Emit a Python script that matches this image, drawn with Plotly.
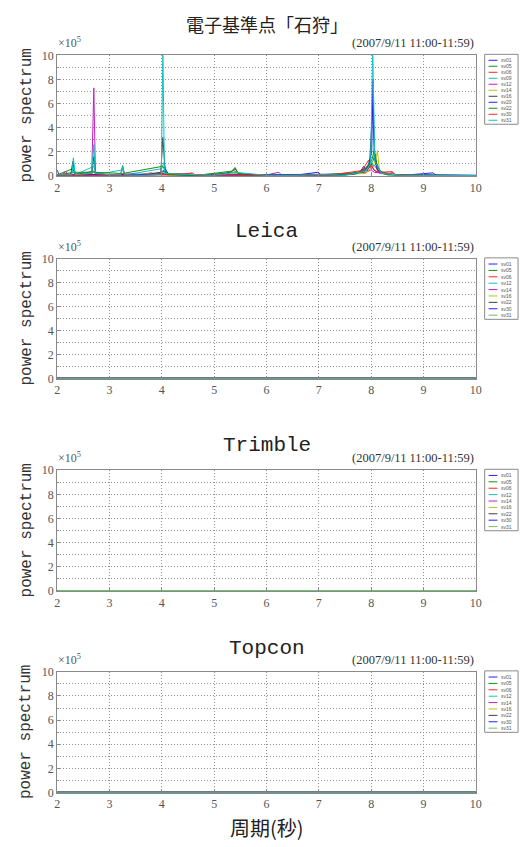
import plotly.graph_objects as go

# ---------------- data ----------------
period_ticks = [2, 3, 4, 5, 6, 7, 8, 9, 10]
power_ticks = [0, 2, 4, 6, 8, 10]

names_top = ["sv01", "sv05", "sv06", "sv09", "sv12", "sv14", "sv16", "sv20", "sv22", "sv30", "sv31"]
colors_top = ["#2020ff", "#109010", "#ff2020", "#10c0c0", "#c020c0", "#c0c010", "#404040",
              "#2020ff", "#109010", "#ff2020", "#10c0c0"]

# (period [s], power spectrum [x10^5])
sv01 = [(2.00,0.50),(2.03,0.12),(2.20,0.10),(2.50,0.12),(2.80,0.08),(3.10,0.10),(3.50,0.06),(3.90,0.10),
        (4.02,0.40),(4.10,0.10),(4.60,0.08),(5.10,0.06),(5.60,0.10),(6.10,0.05),(6.60,0.08),(6.98,0.30),
        (7.04,0.10),(7.50,0.10),(7.78,0.30),(7.86,0.80),(7.92,0.40),(8.00,1.00),(8.05,0.50),(8.12,0.30),
        (8.30,0.15),(8.70,0.08),(9.18,0.25),(9.24,0.06),(9.60,0.05),(10.00,0.04)]
sv05 = [(2.00,0.08),(2.30,0.60),(2.34,0.10),(2.70,0.40),(2.74,0.08),(3.20,0.10),(3.60,0.06),(4.00,0.20),
        (4.04,0.50),(4.10,0.10),(4.80,0.05),(5.30,0.20),(5.36,0.50),(5.42,0.30),(5.50,0.08),(6.20,0.05),
        (7.00,0.08),(7.80,0.30),(7.95,0.70),(8.03,1.20),(8.08,1.80),(8.12,0.50),(8.25,0.15),(8.80,0.05),
        (9.50,0.05),(10.00,0.03)]
sv06 = [(2.00,0.05),(2.40,0.10),(2.90,0.08),(3.40,0.10),(3.90,0.08),(4.30,0.06),(4.58,0.25),(4.64,0.08),
        (5.20,0.06),(5.80,0.05),(6.40,0.08),(7.00,0.06),(7.60,0.10),(7.82,0.40),(7.90,0.90),(7.95,1.30),
        (8.00,0.60),(8.06,0.90),(8.15,0.30),(8.40,0.35),(8.46,0.10),(9.00,0.05),(10.00,0.03)]
sv09 = [(2.00,0.05),(2.27,0.10),(2.31,1.00),(2.35,0.10),(2.70,0.80),(2.74,0.10),(3.25,0.50),(3.29,0.08),
        (4.00,0.60),(4.04,1.10),(4.10,0.20),(4.60,0.05),(5.38,0.30),(5.45,0.10),(6.50,0.05),(7.50,0.05),
        (7.90,0.40),(7.98,1.40),(8.04,0.80),(8.10,1.00),(8.16,0.20),(8.60,0.05),(10.00,0.03)]
sv12 = [(2.00,0.10),(2.12,0.15),(2.16,0.40),(2.20,0.10),(2.50,0.15),(2.66,0.20),(2.70,7.30),(2.73,0.30),
        (2.90,0.10),(3.30,0.15),(3.60,0.12),(3.80,0.25),(3.90,0.10),(4.00,0.20),(4.30,0.10),(4.80,0.10),
        (5.40,0.10),(6.00,0.08),(6.24,0.30),(6.28,0.08),(6.80,0.06),(7.40,0.10),(7.90,0.30),(8.00,0.50),
        (8.06,0.30),(8.50,0.08),(9.30,0.06),(10.00,0.05)]
sv14 = [(2.00,0.05),(2.60,0.06),(3.40,0.05),(4.02,0.30),(4.10,0.05),(5.00,0.04),(5.40,0.20),(6.00,0.04),
        (7.00,0.05),(7.90,0.20),(8.02,0.80),(8.08,1.20),(8.12,2.10),(8.16,0.40),(8.30,0.10),(9.00,0.04),
        (10.00,0.03)]
sv16 = [(2.00,0.10),(2.26,0.15),(2.30,1.20),(2.34,0.15),(2.66,0.15),(2.70,1.60),(2.74,0.15),(3.21,0.10),
        (3.25,0.80),(3.29,0.10),(3.70,0.10),(3.98,0.30),(4.02,3.20),(4.06,0.60),(4.12,0.20),(4.60,0.10),
        (5.00,0.08),(5.32,0.30),(5.40,0.60),(5.46,0.20),(6.00,0.05),(6.60,0.06),(7.20,0.05),(7.70,0.15),
        (7.88,0.60),(7.97,1.00),(8.03,5.80),(8.07,1.50),(8.14,0.60),(8.22,0.20),(8.60,0.08),(9.20,0.05),
        (10.00,0.04)]
sv20 = [(2.00,0.08),(2.50,0.10),(3.00,0.08),(3.50,0.10),(4.00,0.15),(4.50,0.06),(5.00,0.08),(5.50,0.10),
        (6.00,0.06),(6.50,0.08),(7.00,0.10),(7.60,0.15),(7.85,0.40),(7.95,0.80),(8.01,2.00),(8.035,8.00),
        (8.06,1.50),(8.12,0.50),(8.20,0.30),(8.30,0.10),(8.80,0.06),(9.50,0.05),(10.00,0.03)]
sv22 = [(2.00,0.05),(2.30,0.30),(2.70,0.30),(3.25,0.20),(4.02,0.80),(4.10,0.10),(4.70,0.05),(5.34,0.40),
        (5.40,0.70),(5.46,0.20),(5.60,0.05),(6.50,0.04),(7.40,0.05),(7.85,0.30),(7.95,0.90),(8.02,1.40),
        (8.06,2.20),(8.10,1.00),(8.18,0.40),(8.30,0.10),(9.00,0.04),(10.00,0.03)]
sv30 = [(2.00,0.03),(2.80,0.05),(3.60,0.04),(4.02,0.15),(4.55,0.20),(4.62,0.05),(5.30,0.05),(6.20,0.04),
        (7.20,0.05),(7.92,0.50),(8.00,0.80),(8.08,0.40),(8.36,0.20),(8.40,0.35),(8.44,0.10),(9.00,0.04),
        (10.00,0.03)]
sv31 = [(2.00,0.10),(2.28,0.10),(2.31,1.50),(2.34,0.10),(2.66,0.20),(2.70,2.60),(2.73,0.20),(3.00,0.10),
        (3.22,0.10),(3.25,0.90),(3.28,0.10),(3.60,0.05),(3.99,0.10),(4.02,10.50),(4.05,0.20),(4.50,0.10),
        (5.00,0.05),(5.40,0.30),(6.00,0.05),(6.50,0.05),(7.00,0.10),(7.50,0.05),(7.90,0.40),(7.99,1.00),
        (8.03,10.50),(8.07,1.20),(8.20,0.20),(8.60,0.05),(9.00,0.05),(9.50,0.05),(10.00,0.03)]
series_top = [sv01, sv05, sv06, sv09, sv12, sv14, sv16, sv20, sv22, sv30, sv31]

names_lower = ["sv01", "sv05", "sv06", "sv12", "sv14", "sv16", "sv22", "sv30", "sv31"]
colors_lower = ["#2020ff", "#109010", "#ff2020", "#10c0c0", "#c020c0", "#c0c010", "#404040",
                "#2020ff", "#70c070"]
flat_period = [2, 10]
flat_power = [0, 0]

panel_titles = ["電子基準点「石狩」", "Leica", "Trimble", "Topcon"]
date_label = "(2007/9/11 11:00-11:59)"

# ---------------- layout helpers ----------------
OFF = 8                      # default page body margin
W, H = 528 - OFF, 847 - OFF
def px(x): return (x - OFF) / W
def py(y): return 1 - (y - OFF) / H

x_left, x_right = 55, 481
panels = [(49, 172), (256, 378), (471, 594), (676, 799)]   # pixel top/bottom in the window
title_y = [17, 228, 446, 652]

serif = "Liberation Serif, DejaVu Serif, serif"
mono = "Liberation Mono, DejaVu Sans Mono, monospace"
cjk = "Noto Sans CJK JP, sans-serif"
grid_dash = "1px,2px"

fig = go.Figure()
layout = dict(width=W, height=H, margin=dict(l=0, r=0, t=0, b=0),
              paper_bgcolor="white", plot_bgcolor="white", showlegend=False)
shapes, annotations = [], []

for i, (top, bot) in enumerate(panels):
    n = "" if i == 0 else str(i + 1)
    xa, ya = "x" + n, "y" + n
    if i == 0:
        for s, nm, c in zip(series_top, names_top, colors_top):
            xs = [p[0] for p in s]
            ys = [p[1] for p in s]
            fig.add_trace(go.Scatter(x=xs, y=ys, mode="lines", name=nm, xaxis=xa, yaxis=ya,
                                     line=dict(color=c, width=1)))
        leg_names, leg_colors = names_top, colors_top
    else:
        for nm, c in zip(names_lower, colors_lower):
            fig.add_trace(go.Scatter(x=flat_period, y=flat_power, mode="lines", name=nm,
                                     xaxis=xa, yaxis=ya, line=dict(color=c, width=1.5)))
        leg_names, leg_colors = names_lower, colors_lower

    layout["xaxis" + n] = dict(domain=[px(x_left), px(x_right)], anchor=ya, range=[2, 10],
                               tickvals=period_ticks, showgrid=True, gridcolor="#909090",
                               griddash=grid_dash, gridwidth=1, showline=True, mirror=True,
                               linecolor="#8a8a8a", linewidth=1, ticks="inside", ticklen=3,
                               tickcolor="#8a8a8a", zeroline=False,
                               tickfont=dict(family=serif, size=12, color="#555"))
    layout["yaxis" + n] = dict(domain=[py(bot), py(top)], anchor=xa, range=[-0.03, 10],
                               tickvals=power_ticks, showgrid=True, gridcolor="#909090",
                               griddash=grid_dash, gridwidth=1, showline=True, mirror=True,
                               linecolor="#8a8a8a", linewidth=1, ticks="inside", ticklen=3,
                               tickcolor="#8a8a8a", zeroline=False,
                               minor=dict(dtick=1, tick0=0, showgrid=True, gridcolor="#909090",
                                          griddash=grid_dash, ticks="inside", ticklen=2),
                               tickfont=dict(family=serif, size=12, color="#555"))

    tfont = dict(family=cjk, size=18, color="#222") if i == 0 else dict(family=mono, size=21, color="#222")
    annotations.append(dict(text=panel_titles[i], x=px(268), y=py(title_y[i]), xref="paper", yref="paper",
                            showarrow=False, font=tfont, xanchor="center", yanchor="middle"))
    annotations.append(dict(text=date_label, x=px(481), y=py(top - 3), xref="paper", yref="paper",
                            showarrow=False, xanchor="right", yanchor="bottom",
                            font=dict(family=serif, size=12.5, color="#333")))
    annotations.append(dict(text="×10<sup>5</sup>", x=px(54), y=py(top - 3), xref="paper", yref="paper",
                            showarrow=False, xanchor="left", yanchor="bottom",
                            font=dict(family=serif, size=12, color="#555")))
    annotations.append(dict(text="power spectrum", x=px(24), y=py((top + bot) / 2), xref="paper",
                            yref="paper", showarrow=False, textangle=-90, xanchor="center",
                            yanchor="middle", font=dict(family=mono, size=16, color="#333")))

    # compact legend box drawn with shapes
    rows = len(leg_names)
    rh = 6.1 if i == 0 else 6.5
    lx0, lx1 = 490, 524
    ly0 = top - 1
    ly1 = ly0 + rows * rh + 4
    shapes.append(dict(type="rect", xref="paper", yref="paper", x0=px(lx0), x1=px(lx1),
                       y0=py(ly1), y1=py(ly0), line=dict(color="#8a8a8a", width=1),
                       fillcolor="white", layer="above"))
    for k, (nm, c) in enumerate(zip(leg_names, leg_colors)):
        yy = ly0 + 3 + rh * (k + 0.5)
        shapes.append(dict(type="line", xref="paper", yref="paper", x0=px(494), x1=px(503),
                           y0=py(yy), y1=py(yy), line=dict(color=c, width=1), layer="above"))
        annotations.append(dict(text=nm, x=px(505), y=py(yy), xref="paper", yref="paper",
                                showarrow=False, xanchor="left", yanchor="middle",
                                font=dict(family="Liberation Sans, sans-serif", size=5, color="#555")))

annotations.append(dict(text="周期(秒)", x=px(268), y=py(834), xref="paper", yref="paper",
                        showarrow=False, xanchor="center", yanchor="middle",
                        font=dict(family=cjk, size=20, color="#222")))

layout["shapes"] = shapes
layout["annotations"] = annotations
fig.update_layout(**layout)
fig.write_html("out.html")
